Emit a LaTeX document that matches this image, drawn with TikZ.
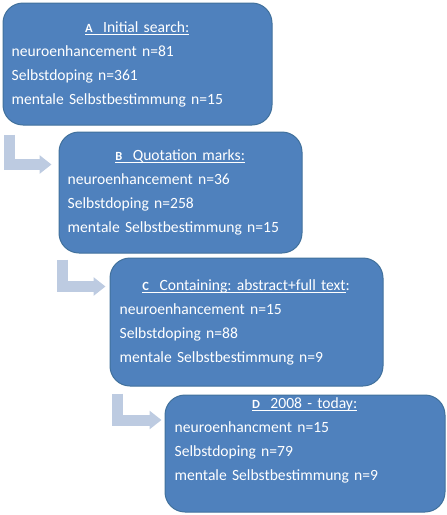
\documentclass[tikz,border=0pt]{standalone}
\usepackage{fontspec}
\setmainfont{Carlito}
\usepackage{xcolor}
\usepackage{tikz}
\usetikzlibrary{arrows.meta, positioning}
\frenchspacing
\definecolor{stagefill}{HTML}{4F81BD}
\definecolor{stagedraw}{HTML}{41719C}
\definecolor{stepfill}{HTML}{BDCBE1}
\newcommand{\stageul}[1]{\setbox0\hbox{#1}\rlap{\rule[-2.6pt]{\wd0}{0.9pt}}\box0}
\newcommand{\stageletter}[1]{{\fontsize{12.5}{14}\selectfont\bfseries #1}}
\tikzset{
    stagebox/.style={rectangle, rounded corners=20pt, draw=stagedraw, fill=stagefill,
                     line width=1pt, inner sep=0pt},
    stagetext/.style={anchor=base west, inner sep=0pt, align=left, text=white,
                      font=\fontsize{15.6}{24}\selectfont},
    steparrow/.style={draw=stepfill, line width=11pt, line join=miter,
                      -{Triangle[width=18pt, length=12pt]}},
}

\begin{document}
\begin{tikzpicture}[x=1pt, y=1pt]
  \useasboundingbox (0,0) rectangle (447,-515);

  % Search stages
  \node[stagebox, minimum width=269pt, minimum height=122pt] (A) at (137.5,-64) {};
  \node[stagebox, minimum width=243pt, minimum height=121pt] (B) at (180.5,-192.5) {};
  \node[stagebox, minimum width=273pt, minimum height=128pt] (C) at (246.5,-322) {};
  \node[stagebox, minimum width=280pt, minimum height=117pt] (D) at (305,-453.5) {};

  \node[stagetext, text width=251pt] (Atxt) at ([xshift=9pt, yshift=-30pt]A.north west)
        {\makebox[\linewidth]{\stageul{\stageletter{A}\ \ Initial search:}}\\
         neuroenhancement n=81\\
         Selbstdoping n=361\\
         mentale Selbstbestimmung n=15};

  \node[stagetext, text width=225pt] (Btxt) at ([xshift=9pt, yshift=-29pt]B.north west)
        {\makebox[\linewidth]{\stageul{\stageletter{B}\ \ Quotation marks:}}\\
         neuroenhancement n=36\\
         Selbstdoping n=258\\
         mentale Selbstbestimmung n=15};

  \node[stagetext, text width=253pt] (Ctxt) at ([xshift=10pt, yshift=-33pt]C.north west)
        {\makebox[\linewidth]{\stageul{\stageletter{C}\ \ Containing: abstract+full text}:}\\
         neuroenhancement n=15\\
         Selbstdoping n=88\\
         mentale Selbstbestimmung n=9};

  \node[stagetext, text width=260pt] (Dtxt) at ([xshift=10pt, yshift=-14pt]D.north west)
        {\makebox[\linewidth]{\stageul{\stageletter{D}\ \ 2008 - today:}}\\
         neuroenhancment n=15\\
         Selbstdoping n=79\\
         mentale Selbstbestimmung n=9};

  % Bent arrows between stages
  \draw[steparrow] ([xshift=6.5pt, yshift=-9pt]A.south west) |- ([xshift=-7pt, yshift=-33pt]B.north west);
  \draw[steparrow] ([xshift=3.5pt, yshift=-6pt]B.south west) |- ([xshift=-4pt, yshift=-29pt]C.north west);
  \draw[steparrow] ([xshift=8pt, yshift=-7pt]C.south west) |- ([xshift=-3pt, yshift=-25.5pt]D.north west);

\end{tikzpicture}
\end{document}
